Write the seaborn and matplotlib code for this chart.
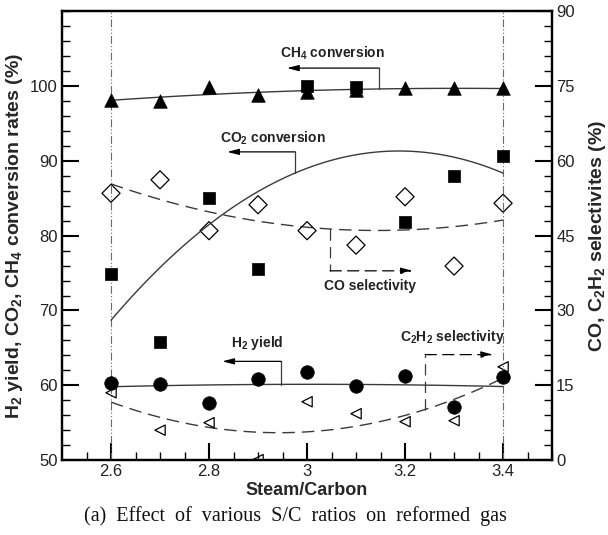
import numpy as np
import pandas as pd
import matplotlib
matplotlib.use("Agg")
import matplotlib.pyplot as plt
import seaborn as sns

# Steam/Carbon ratios
sc_ratio = [2.6, 2.7, 2.8, 2.9, 3.0, 3.1, 3.2, 3.3, 3.4]

# Left axis (%)
ch4_conversion = [98.1, 98.0, 99.9, 98.8, 99.2, 99.5, 99.7, 99.7, 99.7]
co2_conversion = [74.9, 65.8, 85.1, 75.6, 100.0, 99.9, 81.8, 88.0, 90.7]
h2_yield = [60.3, 60.2, 57.6, 60.8, 61.8, 59.9, 61.2, 57.1, 61.1]

# Right axis (%)
co_selectivity = [53.5, 56.2, 46.0, 51.2, 46.0, 43.1, 52.8, 38.9, 51.5]
c2h2_selectivity = [13.5, 6.0, 7.5, 0.1, 11.7, 9.3, 7.7, 7.9, 18.7]

left_ticks = [50, 60, 70, 80, 90, 100]
right_ticks = [0, 15, 30, 45, 60, 75, 90]
x_ticks = [2.6, 2.8, 3.0, 3.2, 3.4]
x_ticklabels = ["2.6", "2.8", "3", "3.2", "3.4"]

df = pd.DataFrame({
    "sc": sc_ratio,
    "ch4": ch4_conversion,
    "co2": co2_conversion,
    "h2": h2_yield,
    "co": co_selectivity,
    "c2h2": c2h2_selectivity,
})

sns.set_style("ticks")
plt.rcParams["font.family"] = ["Liberation Sans", "DejaVu Sans"]
plt.rcParams["mathtext.fontset"] = "custom"
plt.rcParams["mathtext.rm"] = "Liberation Sans"
plt.rcParams["mathtext.bf"] = "Liberation Sans:bold"
plt.rcParams["mathtext.default"] = "bf"

fig = plt.figure(figsize=(6.08, 5.35), dpi=100)
ax = fig.add_axes([0.102, 0.140, 0.806, 0.839])
ax2 = ax.twinx()

line_col = "#3a3a3a"
solid = dict(color=line_col, lw=1.0)
dashed = dict(color=line_col, lw=1.0, ls=(0, (9, 5)))

# reference lines at the ends of the tested range
for xv in (2.6, 3.4):
    ax.axvline(xv, color="#6a6a6a", lw=0.8, ls=(0, (7, 2, 1, 2, 1, 2)), zorder=1)

# quadratic trend lines
sns.regplot(data=df, x="sc", y="ch4", ax=ax, order=2, ci=None, scatter=False,
            truncate=True, line_kws=solid)
sns.regplot(data=df, x="sc", y="co2", ax=ax, order=2, ci=None, scatter=False,
            truncate=True, line_kws=solid)
sns.regplot(data=df, x="sc", y="h2", ax=ax, order=2, ci=None, scatter=False,
            truncate=True, line_kws=solid)
sns.regplot(data=df, x="sc", y="co", ax=ax2, order=2, ci=None, scatter=False,
            truncate=True, line_kws=dashed)
sns.regplot(data=df, x="sc", y="c2h2", ax=ax2, order=2, ci=None, scatter=False,
            truncate=True, line_kws=dashed)

# measured points
sns.scatterplot(data=df, x="sc", y="ch4", ax=ax, marker="^", s=95,
                color="black", edgecolor="black", linewidth=0.5, zorder=5)
sns.scatterplot(data=df, x="sc", y="co2", ax=ax, marker="s", s=75,
                color="black", edgecolor="black", linewidth=0.5, zorder=6)
sns.scatterplot(data=df, x="sc", y="h2", ax=ax, marker="o", s=95,
                color="black", edgecolor="black", linewidth=0.5, zorder=5)
sns.scatterplot(data=df, x="sc", y="co", ax=ax2, marker="D", s=85,
                facecolor="none", edgecolor="black", linewidth=0.9, zorder=5)
sns.scatterplot(data=df, x="sc", y="c2h2", ax=ax2, marker="<", s=55,
                facecolor="none", edgecolor="black", linewidth=0.9, zorder=5)

# axes ranges and ticks
ax.set_xlim(2.5, 3.5)
ax.set_ylim(50, 110)
ax2.set_ylim(0, 90)
ax.set_xticks(x_ticks)
ax.set_xticklabels(x_ticklabels)
ax.set_xticks(np.arange(2.55, 3.5, 0.05), minor=True)
ax.set_yticks(left_ticks)
ax.set_yticks(np.arange(50, 110.1, 2), minor=True)
ax2.set_yticks(right_ticks)
ax2.set_yticks(np.arange(0, 90.1, 3), minor=True)

for a in (ax, ax2):
    a.tick_params(which="major", direction="in", length=12, width=1.5,
                  labelsize=12, pad=3, color="black", labelcolor="#222222")
    a.tick_params(which="minor", direction="in", length=6, width=1.0,
                  color="black")
    for sp in a.spines.values():
        sp.set_linewidth(1.6)
        sp.set_color("black")
ax.tick_params(top=False, right=False, which="both")
ax2.tick_params(top=False, left=False, which="both")

ax.set_xlabel("Steam/Carbon", fontsize=13, fontweight="bold", labelpad=2)
ax.set_ylabel("H$_2$ yield, CO$_2$, CH$_4$ conversion rates (%)", fontsize=14,
              fontweight="bold", labelpad=4)
ax2.set_ylabel("CO, C$_2$H$_2$ selectivites (%)", fontsize=14,
               fontweight="bold", labelpad=9)
ax.set_zorder(ax2.get_zorder() + 1)
ax.patch.set_visible(False)


def callout(path, text_xy, label, dashed_line=False):
    xs, ys = zip(*path)
    ls = (0, (9, 5)) if dashed_line else "-"
    ax.plot(xs[:-1], ys[:-1], color=line_col, lw=0.9, ls=ls)
    ax.annotate("", xy=path[-1], xytext=path[-2],
                arrowprops=dict(arrowstyle="-|>,head_length=0.7,head_width=0.18",
                                color="black", lw=0.9, ls=ls, shrinkA=0, shrinkB=0))
    ax.text(text_xy[0], text_xy[1], label, ha="center", va="center",
            fontsize=10, fontweight="bold", color="#222222")


callout([(3.147, 99.6), (3.147, 102.4), (2.959, 102.4)], (3.051, 104.4),
        "CH$_4$ conversion")
callout([(2.976, 88.4), (2.976, 91.2), (2.837, 91.2)], (2.930, 93.0),
        "CO$_2$ conversion")
callout([(3.047, 80.9), (3.047, 75.3), (3.216, 75.3)], (3.129, 73.3),
        "CO selectivity", dashed_line=True)
callout([(2.947, 60.1), (2.947, 63.2), (2.827, 63.2)], (2.898, 65.6),
        "H$_2$ yield")
callout([(3.241, 56.7), (3.241, 64.1), (3.380, 64.1)], (3.296, 66.4),
        "C$_2$H$_2$ selectivity", dashed_line=True)

fig.text(0.486, 0.036, "(a)  Effect  of  various  S/C  ratios  on  reformed  gas",
         ha="center", va="center", fontsize=14.5, family="Liberation Serif",
         color="#111111")

fig.savefig("out.png", dpi=100)
